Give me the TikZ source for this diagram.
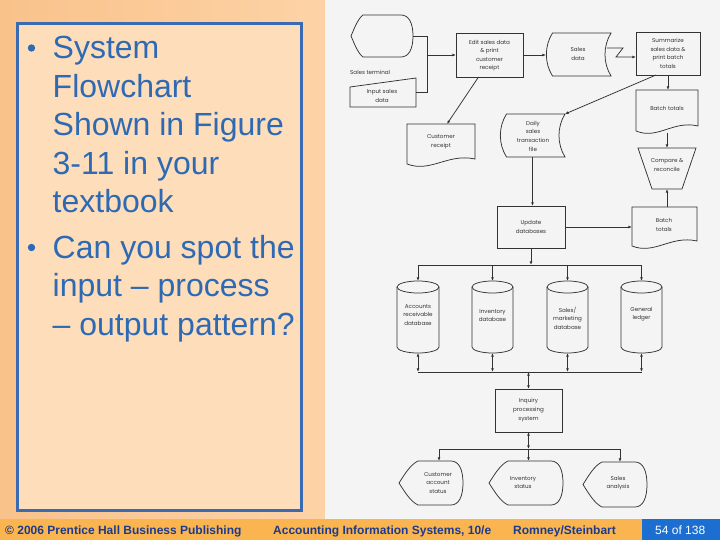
\documentclass[tikz,border=0pt]{standalone}
\usepackage{fontspec}
\setmainfont{Liberation Sans}
\newfontfamily\chartfont{Poppins}
\usetikzlibrary{arrows.meta,calc}
\definecolor{panelL}{HTML}{F9C28B}
\definecolor{panelR}{HTML}{FDD3A6}
\definecolor{boxfill}{HTML}{FEDDBA}
\definecolor{boxline}{HTML}{3A6AB2}
\definecolor{bullettext}{HTML}{2E6AB4}
\definecolor{chartbg}{HTML}{F4F4F4}
\definecolor{footorange}{HTML}{FBB550}
\definecolor{footblue}{HTML}{1C6FD0}
\definecolor{footnavy}{HTML}{1D3B8A}
\definecolor{ink}{HTML}{333333}
% display shape: x1 y1 x2 y2 leftoffset
\newcommand\dispshape[5]{%
 \draw[line] (#1,{(#2+#4)/2}) .. controls ({#1+0.3*#5},{#2+0.3*(#4-#2)}) and ({#1+0.6*#5},{#2+0.08*(#4-#2)}) .. ({#1+#5},#2) -- ({#3-12},#2) .. controls ({#3-4},#2) and (#3,{#2+0.2*(#4-#2)}) .. (#3,{(#2+#4)/2}) .. controls (#3,{#4-0.2*(#4-#2)}) and ({#3-4},#4) .. ({#3-12},#4) -- ({#1+#5},#4) .. controls ({#1+0.6*#5},{#4-0.08*(#4-#2)}) and ({#1+0.3*#5},{#4-0.3*(#4-#2)}) .. cycle;}
% document shape
\newcommand\docshape[4]{%
 \draw[line] (#1,#2) -- (#3,#2) -- (#3,{#4-8}) .. controls ({#3-0.4*(#3-#1)},{#4-14}) and ({#1+0.35*(#3-#1)},{#4+6}) .. (#1,{#4-3}) -- cycle;}
% stored data shape
\newcommand\storeshape[4]{%
 \draw[line] ({#1+6.5},#2) -- (#3,#2) .. controls ({#3-8},{#2+0.3*(#4-#2)}) and ({#3-8},{#4-0.3*(#4-#2)}) .. (#3,#4) -- ({#1+6.5},#4) .. controls ({#1-1.7},{#4-0.3*(#4-#2)}) and ({#1-1.7},{#2+0.3*(#4-#2)}) .. cycle;}
% cylinder: xc rx ytop ybottom
\newcommand\cylshape[4]{%
 \draw[line] (#1,{#3+6}) ellipse [x radius=#2pt, y radius=6pt];
 \draw[line] ({#1-#2},{#3+6}) -- ({#1-#2},{#4-6}) .. controls ({#1-#2},{#4-2.7}) and ({#1-0.552*#2},#4) .. (#1,#4) .. controls ({#1+0.552*#2},#4) and ({#1+#2},{#4-2.7}) .. ({#1+#2},{#4-6}) -- ({#1+#2},{#3+6});}
% invisible node covering a shape: name x1 y1 x2 y2
\newcommand\hitnode[5]{%
 \node[hit,minimum width={#4-#2},minimum height={#5-#3}] (#1) at ({(#2+#4)/2},{(#3+#5)/2}) {};}
\begin{document}
\begin{tikzpicture}[x=1pt,y=-1pt,
  line/.style={draw=ink,line width=0.75pt},
  arr/.style={line,-{Latex[length=3.6pt,width=2.8pt]}},
  darr/.style={line,{Latex[length=3.6pt,width=2.8pt]}-{Latex[length=3.6pt,width=2.8pt]}},
  hit/.style={inner sep=0pt,outer sep=0pt,draw=none},
  lbl/.style={font=\chartfont\fontsize{5.6}{8.6}\selectfont,text=ink,align=center,inner sep=0pt},
  procbox/.style={draw=ink,line width=0.75pt,inner sep=0pt,outer sep=0pt},
  bul/.style={font=\fontsize{32}{38.4}\selectfont,text=bullettext,anchor=base west,inner sep=0pt},
  foot/.style={font=\bfseries\fontsize{12}{14}\selectfont,text=footnavy,anchor=base west,inner sep=0pt}
]
\useasboundingbox (0,0) rectangle (720,540);
% backgrounds
\shade[left color=panelL,right color=panelR] (0,0) rectangle (325,520);
\fill[chartbg] (325,0) rectangle (720,519);
\fill[footorange] (0,519) rectangle (720,540);
\fill[footblue] (642,519) rectangle (720,540);
% left text box
\draw[boxline,line width=3pt,fill=boxfill] (17.5,24) rectangle (301,510);
\fill[bullettext] (31.5,48) circle (3.7pt);
\fill[bullettext] (31.5,247.5) circle (3.7pt);
\node[bul] (t1) at (52.5,59) {System};
\node[bul] (t2) at (52.5,97.4) {Flowchart};
\node[bul] (t3) at (52.5,135.8) {Shown in Figure};
\node[bul] (t4) at (52.5,174.2) {3-11 in your};
\node[bul] (t5) at (52.5,212.6) {textbook};
\node[bul] (t6) at (52.5,258.5) {Can you spot the};
\node[bul] (t7) at (52.5,296.9) {input – process};
\node[bul] (t8) at (52.5,335.3) {– output pattern?};
% footer
\node[foot] (f1) at (5,534.5) {© 2006 Prentice Hall Business Publishing};
\node[foot] (f2) at (273,534.5) {Accounting Information Systems, 10/e};
\node[foot] (f3) at (513,534.5) {Romney/Steinbart};
\node[foot,font=\fontsize{12}{14}\selectfont,text=white] (f4) at (655,534.5) {54 of 138};

% ---------- flowchart shapes ----------
\hitnode{term}{351}{15}{413}{57}
\dispshape{351}{15}{413}{57}{12}
\node[lbl,anchor=west] (termT) at (350,72) {Sales terminal};
\hitnode{inp}{350}{78}{416}{107}
\draw[line] (inp.south west) -- (350,87) -- (inp.north east) -- (inp.south east) -- cycle;
\node[lbl] (inpT) at (382,96) {Input sales\\data};
\node[procbox,minimum width=67pt,minimum height=44pt] (edit) at (489.5,55) {};
\node[lbl] (editT) at (489.5,55.5) {Edit sales data\\\& print\\customer\\receipt};
\hitnode{sdata}{546}{33}{611}{76}
\storeshape{546}{33}{611}{76}
\node[lbl] (sdataT) at (578,54) {Sales\\data};
\node[procbox,minimum width=64pt,minimum height=43pt] (summ) at (668,53.5) {};
\node[lbl] (summT) at (668,53.5) {Summarize\\sales data \&\\print batch\\totals};
\hitnode{bt1}{636}{90}{698}{133}
\docshape{636}{90}{698}{134}
\node[lbl] (bt1T) at (667,108) {Batch totals};
\hitnode{cr}{407}{124}{475}{167}
\docshape{407}{124}{475}{167}
\node[lbl] (crT) at (441,142) {Customer\\receipt};
\hitnode{daily}{500}{114}{565}{157}
\storeshape{500}{114}{565}{157}
\node[lbl] (dailyT) at (533,136) {Daily\\sales\\transaction\\file};
\node[procbox,minimum width=68pt,minimum height=42pt] (upd) at (531,227) {};
\node[lbl] (updT) at (531,227) {Update\\databases};
\hitnode{bt2}{632}{207}{697}{248}
\docshape{632}{207}{697}{249}
\node[lbl] (bt2T) at (664,225) {Batch\\totals};
\hitnode{cmp}{638}{148}{696}{189}
\draw[line] (cmp.north west) -- (cmp.north east) -- (682,189) -- (652,189) -- cycle;
\node[lbl] (cmpT) at (667,165) {Compare \&\\reconcile};
% databases
\hitnode{ar}{397}{281}{439}{353}
\cylshape{418}{21}{281}{353}
\node[lbl] (arT) at (418,315) {Accounts\\receivable\\database};
\hitnode{inv}{472}{281}{513}{353}
\cylshape{492.5}{20.5}{281}{353}
\node[lbl] (invT) at (492.5,315.5) {Inventory\\database};
\hitnode{sm}{547}{281}{588}{353}
\cylshape{567.5}{20.5}{281}{353}
\node[lbl] (smT) at (567.5,318) {Sales/\\marketing\\database};
\hitnode{gl}{621}{281}{662}{353}
\cylshape{641.5}{20.5}{281}{353}
\node[lbl] (glT) at (641.5,314) {General\\ledger};
% inquiry
\node[procbox,minimum width=67pt,minimum height=43pt] (inq) at (528.5,410.5) {};
\node[lbl] (inqT) at (528.5,410) {Inquiry\\processing\\system};
% outputs
\hitnode{cas}{399}{461}{463}{505}
\dispshape{399}{461}{463}{505}{19}
\node[lbl] (casT) at (438,483) {Customer\\account\\status};
\hitnode{ist}{489}{461}{563}{505}
\dispshape{489}{461}{563}{505}{19}
\node[lbl] (istT) at (523,482.5) {Inventory\\status};
\hitnode{sa}{583}{462}{647}{507}
\dispshape{583}{462}{647}{507}{19}
\node[lbl] (saT) at (618,483) {Sales\\analysis};

% ---------- connectors ----------
\coordinate (j1) at (427,36);
\draw[line] (term.east) -- (j1) -- (j1 |- inp.east) -- (inp.east);
\draw[arr] (j1 |- edit.west) -- (edit.west);
\draw[arr] (edit.east) -- (edit.east -| sdata.west);
\coordinate (z0) at (607,48);
\coordinate (z1) at (623,48);
\coordinate (z2) at (616,57);
\draw[arr] (z0) -- (z1) -- (z2) -- (z2 -| summ.west);
\draw[arr] (summ.south) -- (summ.south |- bt1.north);
\draw[arr] ($(summ.south)+(-12,0)$) -- (daily.north east);
\draw[arr] ($(edit.south)+(-11,0)$) -- ($(cr.north)+(6,0)$);
\draw[arr] (daily.south) -- (daily.south |- upd.north);
\draw[arr] (upd.east) -- (upd.east -| bt2.west);
\draw[arr] (cmp.south |- bt2.north) -- (cmp.south);
\draw[arr] (cmp.north |- bt1.south) -- (cmp.north);
% bus 1
\coordinate (b1L) at (418,265);
\coordinate (b1R) at (641.5,265);
\draw[line] (b1L) -- (b1R);
\draw[arr] (upd.south) -- (upd.south |- b1L);
\draw[arr] (b1L) -- (ar.north);
\draw[arr] (inv.north |- b1L) -- (inv.north);
\draw[arr] (sm.north |- b1L) -- (sm.north);
\draw[arr] (b1R) -- (gl.north);
% bus 2
\coordinate (b2L) at (418,372);
\coordinate (b2R) at (641.5,372);
\draw[line] (b2L) -- (b2R);
\draw[darr] (ar.south) -- (b2L);
\draw[darr] (inv.south) -- (inv.south |- b2L);
\draw[darr] (sm.south) -- (sm.south |- b2L);
\draw[darr] (gl.south) -- (b2R);
\draw[darr] (inq.north |- b2L) -- (inq.north);
% bus 3
\coordinate (b3L) at (439,449);
\coordinate (b3R) at (620,449);
\draw[line] (b3L) -- (b3R);
\draw[darr] (inq.south) -- (inq.south |- b3L);
\draw[arr] (b3L) -- (b3L |- cas.north);
\draw[arr] (inq.south |- b3L) -- (inq.south |- ist.north);
\draw[arr] (b3R) -- (b3R |- sa.north);
\end{tikzpicture}
\end{document}
